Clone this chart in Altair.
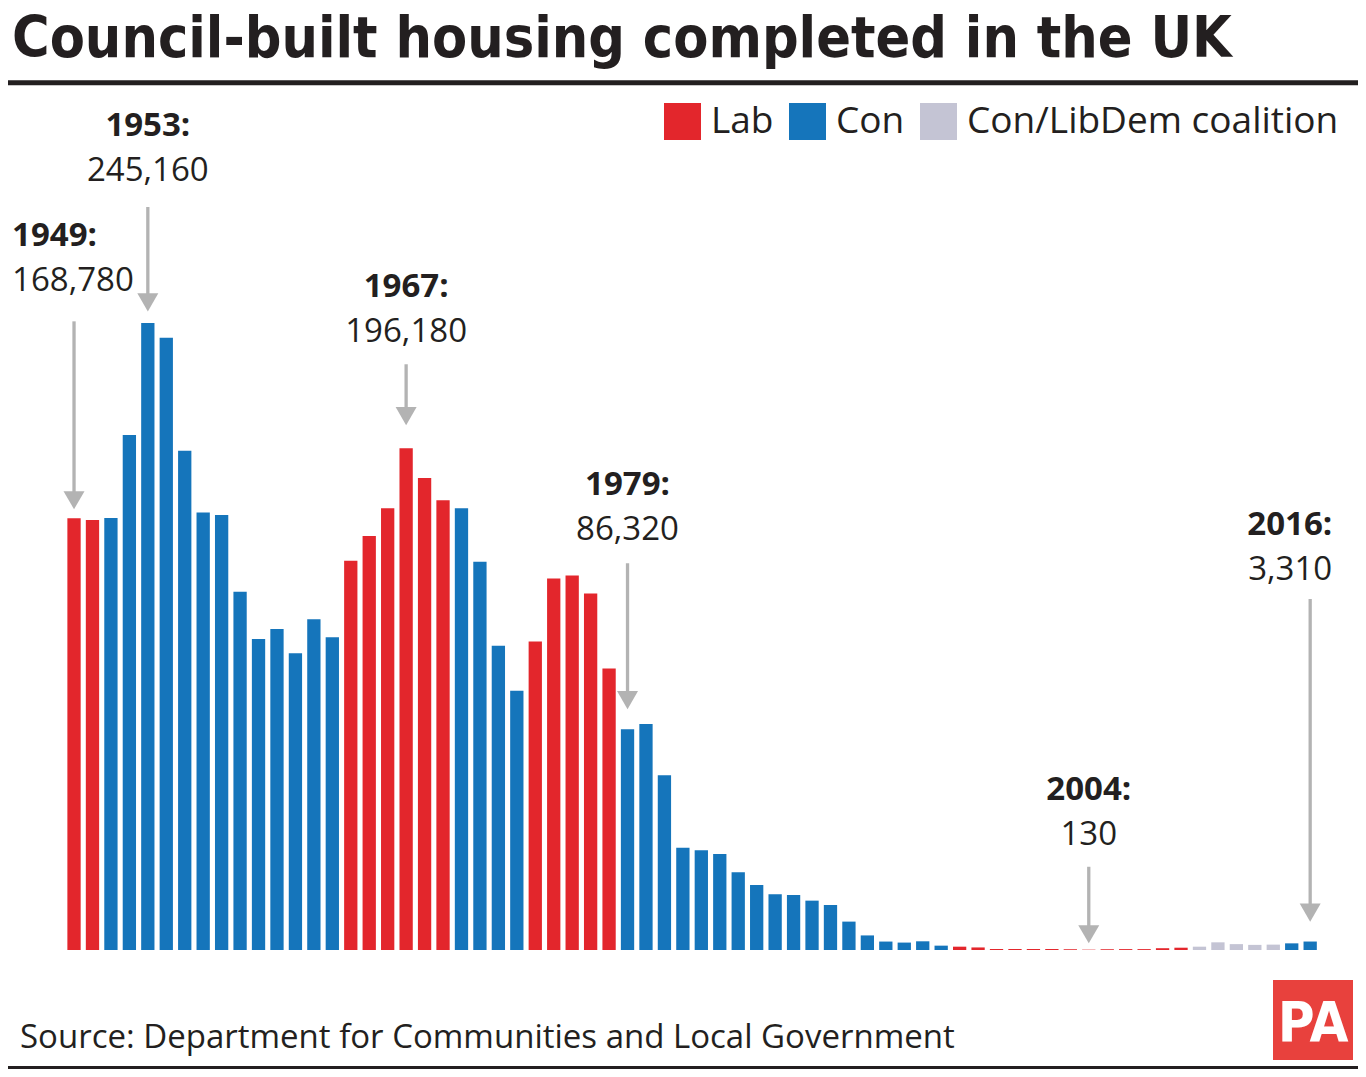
import altair as alt
import pandas as pd

# ---------------- data ----------------
years = list(range(1949, 2017))
completions = [
    168780, 168100, 168900, 201400, 245160, 239400, 195200, 171100, 170100, 140100,  # 1949-1958
    121600, 125500, 116000, 129300, 122300, 152200, 161900, 172700, 196180, 184600,  # 1959-1968
    175900, 172700, 151800, 119000, 101400, 120600, 145300, 146400, 139400, 110100,  # 1969-1978
    86320, 88400, 68300, 40000, 39000, 37500, 30400, 25400, 21800, 21500,            # 1979-1988
    19300, 17600, 11100, 5700, 3300, 2900, 3400, 1700, 1300, 1000,                   # 1989-1998
    400, 400, 400, 400, 300, 130, 300, 350, 350, 700,                                # 1999-2008
    900, 1300, 3000, 2300, 2000, 2100, 2600, 3310,                                   # 2009-2016
]
period_start = [1949, 1951, 1964, 1970, 1974, 1979, 1997, 2010, 2015]
period_party = ["Lab", "Con", "Lab", "Con", "Lab", "Con", "Lab", "Con/LibDem coalition", "Con"]
party_names = ["Lab", "Con", "Con/LibDem coalition"]

ann_years = [1949, 1953, 1967, 1979, 2004, 2016]
ann_heads = ["1949:", "1953:", "1967:", "1979:", "2004:", "2016:"]
ann_values = ["168,780", "245,160", "196,180", "86,320", "130", "3,310"]

title_text = "Council-built housing completed in the UK"
source_text = "Source: Department for Communities and Local Government"

# ---------------- layout / style ----------------
party_colors = ["#e3262c", "#1575bb", "#c4c4d4"]
ink = "#231f20"
arrow_grey = "#b3b3b3"
W, H = 1350, 1061
Y0 = 942.0            # baseline pixel
UPP = 391.0           # units per pixel
YMAX = 250000
x_range = [56.8, 1311.4]
y_range = [Y0, Y0 - YMAX / UPP]
COND = "DejaVu Sans Condensed, Liberation Sans Narrow, sans-serif"

# annotation geometry in pixels: gap bar->tip, arrow length, gap line-top->value baseline
ann_gap = [9, 11.6, 23, 20, 6.3, 19.8]
ann_len = [188, 104.4, 61, 146, 76.6, 322.7]
ann_textgap = [30, 25.6, 22.3, 23.3, 21.7, 19]
ann_align = ["left", "center", "center", "center", "center", "right"]
HEAD_GAP = 45
TRI = 21  # triangle width

def party_of(y):
    p = period_party[0]
    for s, name in zip(period_start, period_party):
        if y >= s:
            p = name
    return p

df = pd.DataFrame({"year": years, "houses": completions,
                   "party": [party_of(y) for y in years]})

def px_to_val(px):
    return (Y0 - px) * UPP

rows = []
for i, yr in enumerate(ann_years):
    v = completions[years.index(yr)]
    top = Y0 - v / UPP
    tip = top - ann_gap[i]
    line_top = tip - ann_len[i]
    val_base = line_top - ann_textgap[i]
    head_base = val_base - HEAD_GAP
    rows.append({
        "year": yr, "head": ann_heads[i], "label": ann_values[i],
        "align": ann_align[i],
        "tri_y": px_to_val(tip - TRI * 0.866 / 2),
        "line_y": px_to_val(line_top),
        "line_y2": px_to_val(tip - TRI * 0.866 + 2),
        "val_y": px_to_val(val_base),
        "head_y": px_to_val(head_base),
    })
ann = pd.DataFrame(rows)

xs = alt.Scale(domain=[1948.5, 2016.5], range=x_range, nice=False, zero=False, padding=0)
ys = alt.Scale(domain=[0, YMAX], range=y_range, nice=False, zero=False)
X = alt.X("year:Q", scale=xs, axis=None)

bars = alt.Chart(df).mark_bar(size=13.3).encode(
    x=X,
    y=alt.Y("houses:Q", scale=ys, axis=None),
    color=alt.Color("party:N",
                    scale=alt.Scale(domain=party_names, range=party_colors),
                    legend=alt.Legend(title=None, orient="none", legendX=656, legendY=95,
                                      direction="horizontal", symbolType="square",
                                      symbolSize=1369, symbolStrokeWidth=0, symbolOpacity=1,
                                      labelFont="Open Sans", labelFontSize=37,
                                      labelColor=ink, labelOffset=10, columnPadding=15,
                                      padding=0, labelLimit=600)),
)

arrow_lines = alt.Chart(ann).mark_rule(color=arrow_grey, strokeWidth=3.3).encode(
    x=X, y=alt.Y("line_y:Q", scale=ys, axis=None), y2="line_y2:Q")
arrow_heads = alt.Chart(ann).mark_point(shape="triangle-down", filled=True, size=TRI * TRI,
                                        color=arrow_grey, opacity=1).encode(
    x=X, y=alt.Y("tri_y:Q", scale=ys, axis=None))

layers = [bars, arrow_lines, arrow_heads]
for al, dx in [("left", -62), ("center", 0), ("right", 22)]:
    sub = ann[ann["align"] == al]
    layers.append(alt.Chart(sub).mark_text(
        align=al, baseline="alphabetic", dx=dx, font="Open Sans", fontWeight="bold",
        fontSize=33, color=ink).encode(x=X, y=alt.Y("head_y:Q", scale=ys, axis=None), text="head:N"))
    layers.append(alt.Chart(sub).mark_text(
        align=al, baseline="alphabetic", dx=dx, font="Open Sans", fontWeight="normal",
        fontSize=33, color=ink).encode(x=X, y=alt.Y("val_y:Q", scale=ys, axis=None), text="label:N"))

one = pd.DataFrame({"t": [title_text]})
title = alt.Chart(one).mark_text(
    align="left", baseline="alphabetic", font=COND,
    fontWeight="bold", fontSize=57, color=ink).encode(
    x=alt.value(4), y=alt.value(49), text="t:N")
title_rule = alt.Chart(one).mark_rule(color=ink, strokeWidth=5).encode(
    x=alt.value(0), x2=alt.value(W), y=alt.value(74.8))
src = alt.Chart(pd.DataFrame({"t": [source_text]})).mark_text(
    align="left", baseline="alphabetic", font="Open Sans", fontSize=33, color=ink).encode(
    x=alt.value(12), y=alt.value(1040), text="t:N")
pa_box = alt.Chart(one).mark_rect(color="#e8413d").encode(
    x=alt.value(1265), x2=alt.value(1345), y=alt.value(972), y2=alt.value(1052))
pa_text = alt.Chart(pd.DataFrame({"t": ["PA"]})).mark_text(
    align="center", baseline="alphabetic", font=COND,
    fontWeight="bold", fontSize=56, color="white").encode(
    x=alt.value(1305), y=alt.value(1033), text="t:N")
bottom_band = alt.Chart(one).mark_rect(color=ink).encode(
    x=alt.value(0), x2=alt.value(W), y=alt.value(1058), y2=alt.value(H))

layers += [title, title_rule, src, pa_box, pa_text, bottom_band]

chart = alt.layer(*layers).properties(
    width=W, height=H, padding=0, background="white",
    autosize=alt.AutoSizeParams(type="none"),
).configure_view(strokeWidth=0)

chart.save("out.html", embed_options={"renderer": "svg", "actions": False})
